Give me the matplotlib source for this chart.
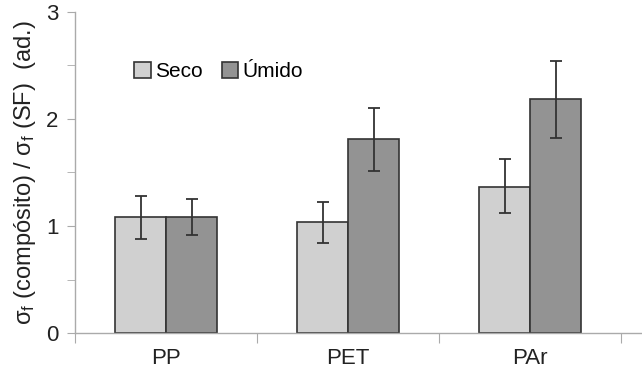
import matplotlib.pyplot as plt
import numpy as np

plt.rcParams['font.family'] = ['Liberation Sans', 'DejaVu Sans']

groups = ['PP', 'PET', 'PAr']
seco = [1.08, 1.04, 1.36]
seco_hi = [1.28, 1.22, 1.63]
seco_lo = [0.88, 0.84, 1.12]
umido = [1.08, 1.81, 2.19]
umido_hi = [1.25, 2.10, 2.54]
umido_lo = [0.92, 1.51, 1.82]

x = np.arange(len(groups))
w = 0.28

fig = plt.figure(figsize=(6.42, 3.85), dpi=100)
ax = fig.add_axes([0.117, 0.135, 0.883, 0.834])

seco_err = [np.array(seco) - np.array(seco_lo), np.array(seco_hi) - np.array(seco)]
umido_err = [np.array(umido) - np.array(umido_lo), np.array(umido_hi) - np.array(umido)]

err_kw = dict(ecolor='#333333', elinewidth=1.3, capsize=4, capthick=1.3)
ax.bar(x - w / 2, seco, w, color='#d0d0d0', edgecolor='#333333', linewidth=1.2,
       yerr=seco_err, error_kw=err_kw, label='Seco', zorder=2)
ax.bar(x + w / 2, umido, w, color='#939393', edgecolor='#333333', linewidth=1.2,
       yerr=umido_err, error_kw=err_kw, label='Úmido', zorder=2)

ax.set_xlim(-0.5, 2.615)
ax.set_ylim(0, 3)

# group separators as ticks, labels at the centres
ax.set_xticks([-0.5, 0.5, 1.5, 2.5])
ax.set_xticklabels([])
ax.set_xticks(x, minor=True)
ax.set_xticklabels(groups, minor=True, fontsize=16, color='#222222')
ax.tick_params(axis='x', which='major', length=7, color='#aaaaaa', direction='out')
ax.tick_params(axis='x', which='minor', length=0, pad=11)

ax.set_yticks([0, 1, 2, 3])
ax.set_yticklabels(['0', '1', '2', '3'], fontsize=16, color='#222222')
ax.set_yticks(np.arange(0, 3.01, 0.5), minor=True)
ax.tick_params(axis='y', which='both', length=6, color='#aaaaaa', direction='out', pad=6)

for s in ['top', 'right']:
    ax.spines[s].set_visible(False)
for s in ['left', 'bottom']:
    ax.spines[s].set_color('#aaaaaa')
    ax.spines[s].set_linewidth(1)

ax.set_ylabel(r'$\mathregular{\sigma_f}$ (compósito) / $\mathregular{\sigma_f}$ (SF)  (ad.)',
              fontsize=17, color='#222222', labelpad=6)

ax.legend(loc='upper left', bbox_to_anchor=(0.09, 0.87), ncol=2, frameon=False,
          fontsize=15, handlelength=0.8, handleheight=0.8, handletextpad=0.2,
          columnspacing=0.9, borderaxespad=0)

fig.savefig('out.png', dpi=100)
